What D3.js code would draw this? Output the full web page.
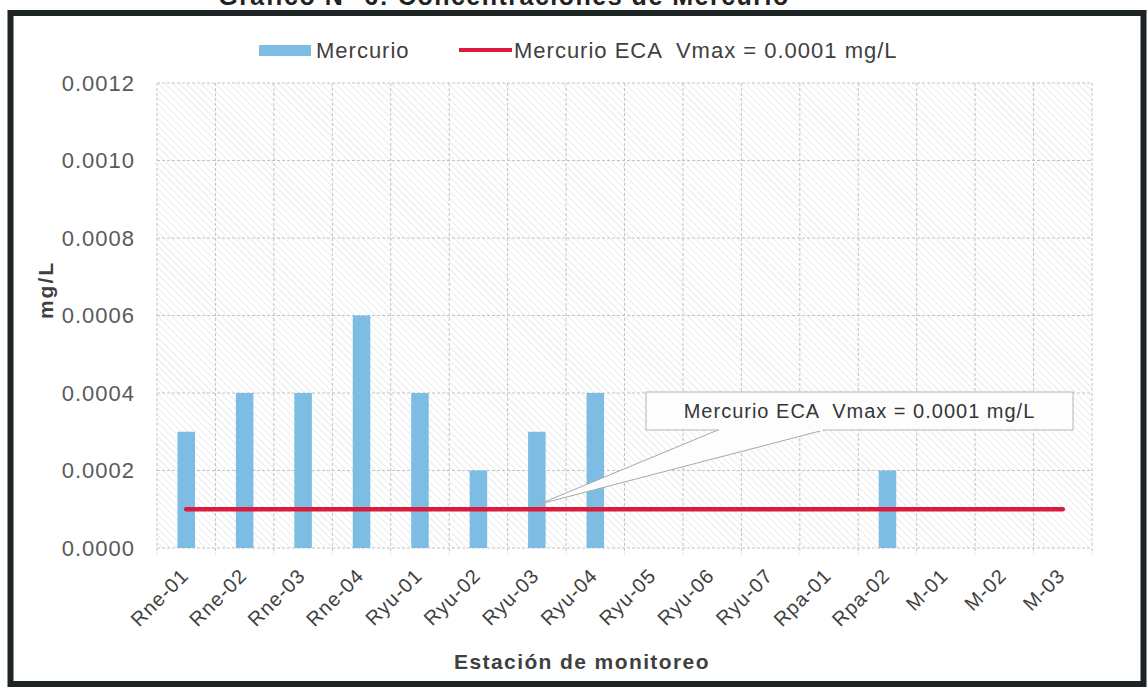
<!DOCTYPE html>
<html>
<head>
<meta charset="utf-8">
<script src="https://cdn.jsdelivr.net/npm/d3@7"></script>
<style>
  body { margin: 0; background: #fff; }
  svg { display: block; font-family: "Liberation Sans", Arial, sans-serif; }
</style>
</head>
<body>
<div id="chart"></div>
<script>
var estaciones = ["Rne-01", "Rne-02", "Rne-03", "Rne-04", "Ryu-01", "Ryu-02", "Ryu-03", "Ryu-04",
    "Ryu-05", "Ryu-06", "Ryu-07", "Rpa-01", "Rpa-02", "M-01", "M-02", "M-03"];
var mercurio = [0.0003, 0.0004, 0.0004, 0.0006, 0.0004, 0.0002, 0.0003, 0.0004,
    0, 0, 0, 0, 0.0002, 0, 0, 0];
var ecaVmax = 0.0001;
var yTicks = [0, 0.0002, 0.0004, 0.0006, 0.0008, 0.0010, 0.0012];

var svgWidth = 1147;
var svgHeight = 687;
var margin = { top: 83, right: 55, bottom: 139, left: 157 };
var width = svgWidth - margin.left - margin.right;
var height = svgHeight - margin.top - margin.bottom;

var svg = d3.select("#chart")
    .append("svg")
    .attr("width", svgWidth)
    .attr("height", svgHeight);

// hatch pattern for the plot background
var defs = svg.append("defs");
var pat = defs.append("pattern")
    .attr("id", "hatch")
    .attr("patternUnits", "userSpaceOnUse")
    .attr("width", 5)
    .attr("height", 5)
    .attr("patternTransform", "rotate(-45)");
pat.append("line")
    .attr("x1", 0).attr("y1", 0).attr("x2", 0).attr("y2", 5)
    .attr("stroke", "#d8d8d8").attr("stroke-width", 1);

// title, cut off by the top of the page as in the scan
svg.append("text")
    .attr("x", 504)
    .attr("y", 5)
    .attr("text-anchor", "middle")
    .attr("font-weight", "bold")
    .attr("font-size", "25px")
    .attr("letter-spacing", "1.5px")
    .attr("fill", "#222")
    .text("Gráfico N° 6: Concentraciones de Mercurio");

// frame
svg.append("rect")
    .attr("x", 10.5).attr("y", 13)
    .attr("width", 1133).attr("height", 671)
    .attr("fill", "none")
    .attr("stroke", "#1e2326")
    .attr("stroke-width", 6);

var chartGroup = svg.append("g")
    .attr("transform", `translate(${margin.left}, ${margin.top})`);

var xScale = d3.scaleBand()
    .domain(estaciones)
    .range([0, width])
    .paddingInner(0.7)
    .paddingOuter(0.35);

var xCenter = d3.scalePoint()
    .domain(estaciones)
    .range([0, width])
    .padding(0.5);

var yScale = d3.scaleLinear()
    .domain([0, 0.0012])
    .range([height, 0]);

chartGroup.append("rect")
    .attr("width", width)
    .attr("height", height)
    .attr("fill", "url(#hatch)");

// gridlines
var step = width / estaciones.length;
chartGroup.append("g")
    .selectAll("line")
    .data(d3.range(estaciones.length + 1))
    .enter()
    .append("line")
    .attr("x1", d => d * step).attr("x2", d => d * step)
    .attr("y1", 0).attr("y2", height + 6)
    .attr("stroke", "#c4c4c4")
    .attr("stroke-dasharray", "3,2");

chartGroup.append("g")
    .selectAll("line")
    .data(yTicks)
    .enter()
    .append("line")
    .attr("x1", 0).attr("x2", width)
    .attr("y1", d => yScale(d)).attr("y2", d => yScale(d))
    .attr("stroke", "#c4c4c4")
    .attr("stroke-dasharray", "3,2");

// y axis labels
var leftAxis = d3.axisLeft(yScale)
    .tickValues(yTicks)
    .tickFormat(d3.format(".4f"))
    .tickSize(0)
    .tickPadding(22);

var yAxis = chartGroup.append("g").call(leftAxis);
yAxis.select(".domain").remove();
yAxis.selectAll("text")
    .attr("font-size", "22px")
    .attr("letter-spacing", "1px")
    .attr("fill", "#5a5a5a")
    .attr("font-family", "Liberation Sans, Arial, sans-serif");

// x axis labels
var bottomAxis = d3.axisBottom(xCenter).tickSize(0).tickPadding(0);
var xAxis = chartGroup.append("g")
    .attr("transform", `translate(0, ${height})`)
    .call(bottomAxis);
xAxis.select(".domain").remove();
xAxis.selectAll("text")
    .attr("font-size", "20px")
    .attr("letter-spacing", "1px")
    .attr("fill", "#404040")
    .attr("font-family", "Liberation Sans, Arial, sans-serif")
    .attr("text-anchor", "end")
    .attr("dy", "0")
    .attr("transform", "translate(3, 29) rotate(-45)");

// bars
chartGroup.append("g")
    .selectAll("rect")
    .data(mercurio)
    .enter()
    .append("rect")
    .attr("x", (d, i) => xScale(estaciones[i]))
    .attr("y", d => yScale(d))
    .attr("width", xScale.bandwidth())
    .attr("height", d => height - yScale(d))
    .attr("fill", "#7dbde3");

// ECA line
var line = d3.line()
    .x(d => xCenter(d))
    .y(() => yScale(ecaVmax));

chartGroup.append("path")
    .datum(estaciones)
    .attr("d", line)
    .attr("fill", "none")
    .attr("stroke", "#dc1a3c")
    .attr("stroke-width", 4.5)
    .attr("stroke-linecap", "round");

// callout
var tipX = xCenter("Ryu-03") + 2;
var tipY = yScale(ecaVmax) - 5;
var boxX = 646 - margin.left, boxY = 392 - margin.top, boxW = 427, boxH = 38;
chartGroup.append("path")
    .attr("d", `M${tipX},${tipY} L${boxX + 72},${boxY + boxH} L${boxX + 178},${boxY + boxH} Z`)
    .attr("fill", "#fdfdfd")
    .attr("stroke", "#a8a8a8")
    .attr("stroke-width", 1);
chartGroup.append("rect")
    .attr("x", boxX).attr("y", boxY)
    .attr("width", boxW).attr("height", boxH)
    .attr("fill", "#fdfdfd")
    .attr("stroke", "#b4b4b4");
chartGroup.append("line")
    .attr("x1", boxX + 73).attr("x2", boxX + 177)
    .attr("y1", boxY + boxH).attr("y2", boxY + boxH)
    .attr("stroke", "#fdfdfd").attr("stroke-width", 2);
chartGroup.append("text")
    .attr("x", boxX + boxW / 2)
    .attr("y", boxY + 26)
    .attr("text-anchor", "middle")
    .attr("font-size", "20px")
    .attr("letter-spacing", "1px")
    .attr("fill", "#363636")
    .attr("xml:space", "preserve")
    .text("Mercurio ECA  Vmax = 0.0001 mg/L");

// legend
var legend = svg.append("g");
legend.append("rect")
    .attr("x", 259).attr("y", 45)
    .attr("width", 52).attr("height", 11)
    .attr("fill", "#7dbde3");
legend.append("text")
    .attr("x", 316).attr("y", 58)
    .attr("font-size", "22px")
    .attr("letter-spacing", "1px")
    .attr("fill", "#404040")
    .text("Mercurio");
legend.append("line")
    .attr("x1", 459).attr("x2", 512)
    .attr("y1", 50).attr("y2", 50)
    .attr("stroke", "#dc1a3c")
    .attr("stroke-width", 4);
legend.append("text")
    .attr("x", 514).attr("y", 58)
    .attr("font-size", "22px")
    .attr("letter-spacing", "1px")
    .attr("fill", "#404040")
    .attr("xml:space", "preserve")
    .text("Mercurio ECA  Vmax = 0.0001 mg/L");

// axis titles
svg.append("text")
    .attr("transform", "translate(53, 290) rotate(-90)")
    .attr("text-anchor", "middle")
    .attr("font-weight", "bold")
    .attr("font-size", "21px")
    .attr("letter-spacing", "2px")
    .attr("fill", "#404040")
    .text("mg/L");

svg.append("text")
    .attr("x", 582)
    .attr("y", 669)
    .attr("text-anchor", "middle")
    .attr("font-weight", "bold")
    .attr("font-size", "21px")
    .attr("letter-spacing", "1.4px")
    .attr("fill", "#404040")
    .text("Estación de monitoreo");
</script>
</body>
</html>
